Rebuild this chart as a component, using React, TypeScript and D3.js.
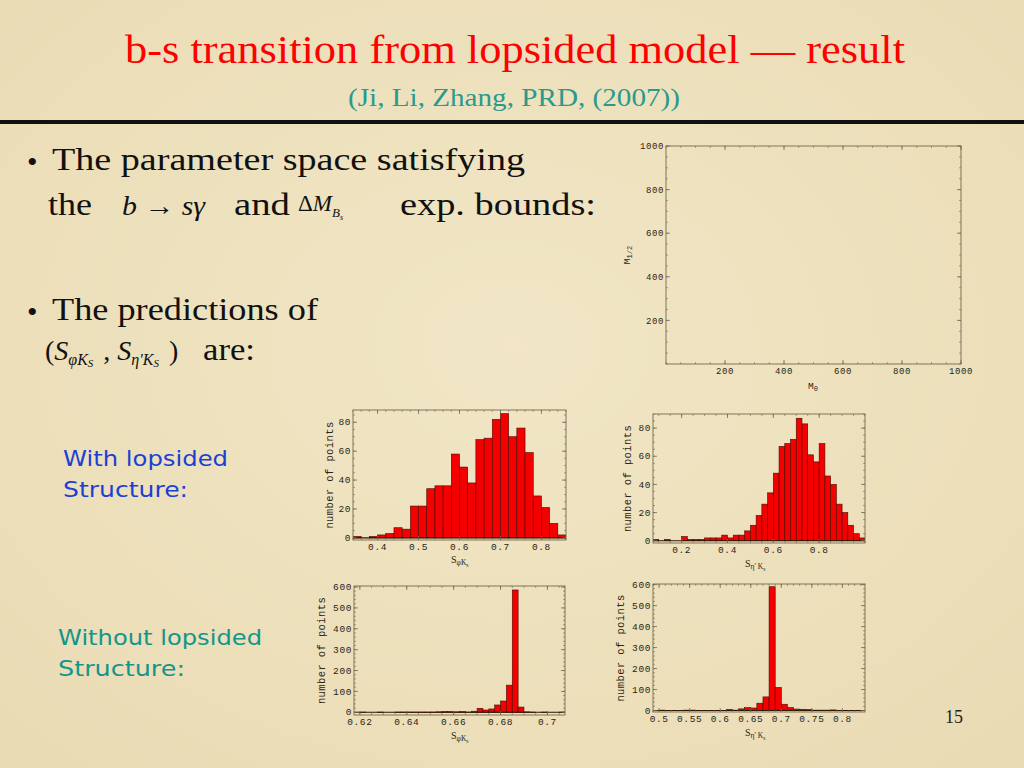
import React from 'react';
import * as d3 from 'd3';

// histogram counts (bins of equal width)
const H1_COUNTS = [1, 0, 1, 2, 3, 7, 6, 22, 22, 34, 36, 36, 58, 49, 38, 68, 69, 82, 86, 70, 76, 59, 29, 21, 10, 2];
const H1_BIN_START = 0.34;
const H1_BIN_WIDTH = 0.02;
const H1_X_TICKS = [0.4, 0.5, 0.6, 0.7, 0.8];
const H1_Y_TICKS = [0, 20, 40, 60, 80];

const H2_COUNTS = [1, 0, 1, 0, 0, 3, 1, 1, 1, 2, 2, 2, 4, 2, 4, 4, 7, 11, 18, 26, 34, 48, 67, 69, 72, 87, 83, 61, 56, 69, 46, 40, 26, 20, 11, 5, 2];
const H2_BIN_START = 0.075;
const H2_BIN_WIDTH = 0.025;
const H2_X_TICKS = [0.2, 0.4, 0.6, 0.8];
const H2_Y_TICKS = [0, 20, 40, 60, 80];

const H3_COUNTS = [0, 1, 0, 0, 1, 0, 0, 1, 1, 1, 1, 1, 1, 1, 2, 3, 3, 2, 3, 1, 5, 19, 11, 16, 35, 54, 130, 586, 25, 2, 1, 0, 1, 0, 0, 1];
const H3_BIN_START = 0.6175;
const H3_BIN_WIDTH = 0.0025;
const H3_X_TICKS = [0.62, 0.64, 0.66, 0.68, 0.7];
const H3_Y_TICKS = [0, 100, 200, 300, 400, 500, 600];

const H4_COUNTS = [1, 2, 1, 0, 0, 2, 2, 0, 1, 1, 1, 1, 5, 2, 8, 14, 12, 35, 65, 590, 110, 30, 14, 7, 6, 5, 2, 2, 2, 3, 1, 0, 0, 0, 0];
const H4_BIN_START = 0.49;
const H4_BIN_WIDTH = 0.01;
const H4_X_TICKS = [0.5, 0.55, 0.6, 0.65, 0.7, 0.75, 0.8];
const H4_Y_TICKS = [0, 100, 200, 300, 400, 500, 600];

const SC_TICKS = [200, 400, 600, 800, 1000];

const MONO = '"Liberation Mono", "DejaVu Sans Mono", monospace';
const SERIF = '"Liberation Serif", "DejaVu Serif", serif';
const COMIC = '"DejaVu Sans", "Noto Sans", sans-serif';
const FRAME_COLOR = '#74684f';
const TEXT_COLOR = '#2a2418';
const INK = '#111';

interface Box { x: number; y: number; w: number; h: number }

const fmt = (v: number) => String(+v.toFixed(4));

function minorTicks(domain: [number, number], step: number) {
  const lo = Math.ceil(domain[0] / step - 1e-9);
  const hi = Math.floor(domain[1] / step + 1e-9);
  return d3.range(lo, hi + 1).map((i) => i * step);
}

// Mathematica style frame: ticks pointing in on all four sides, labels bottom/left
const FrameAxes = ({ box, x, y, xTicks, yTicks, xMinor, yMinor, fontSize = 9.5 }: any) => {
  const bottom = box.y + box.h;
  const right = box.x + box.w;
  const xd = x.domain();
  const yd = y.domain();
  const inX = (v: number) => v >= Math.min(...xd) && v <= Math.max(...xd);
  const inY = (v: number) => v >= Math.min(...yd) && v <= Math.max(...yd);
  return (
    <g>
      <rect x={box.x} y={box.y} width={box.w} height={box.h} fill="none" stroke={FRAME_COLOR} strokeWidth={0.9} />
      {minorTicks(xd, xMinor).filter(inX).map((v, i) => (
        <g key={'xm' + i} stroke={FRAME_COLOR} strokeWidth={0.6}>
          <line x1={x(v)} x2={x(v)} y1={bottom} y2={bottom - 2} />
          <line x1={x(v)} x2={x(v)} y1={box.y} y2={box.y + 2} />
        </g>
      ))}
      {minorTicks(yd, yMinor).filter(inY).map((v, i) => (
        <g key={'ym' + i} stroke={FRAME_COLOR} strokeWidth={0.6}>
          <line x1={box.x} x2={box.x + 2} y1={y(v)} y2={y(v)} />
          <line x1={right} x2={right - 2} y1={y(v)} y2={y(v)} />
        </g>
      ))}
      {xTicks.map((v: number) => (
        <g key={'x' + v}>
          <line x1={x(v)} x2={x(v)} y1={bottom} y2={bottom - 4} stroke={FRAME_COLOR} strokeWidth={0.8} />
          <line x1={x(v)} x2={x(v)} y1={box.y} y2={box.y + 4} stroke={FRAME_COLOR} strokeWidth={0.8} />
          <text x={x(v)} y={bottom + 10} textAnchor="middle" fontFamily={MONO} fontSize={fontSize} fill={TEXT_COLOR} letterSpacing={0.6}>
            {fmt(v)}
          </text>
        </g>
      ))}
      {yTicks.map((v: number) => (
        <g key={'y' + v}>
          <line x1={box.x} x2={box.x + 4} y1={y(v)} y2={y(v)} stroke={FRAME_COLOR} strokeWidth={0.8} />
          <line x1={right} x2={right - 4} y1={y(v)} y2={y(v)} stroke={FRAME_COLOR} strokeWidth={0.8} />
          <text x={box.x - 2} y={y(v) + 3.2} textAnchor="end" fontFamily={MONO} fontSize={fontSize} fill={TEXT_COLOR} letterSpacing={0.6}>
            {fmt(v)}
          </text>
        </g>
      ))}
    </g>
  );
};

const Histogram = ({ box, counts, binStart, binWidth, xDomain, yDomain, xTicks, yTicks, xMinor, yMinor, xLabel, yLabelX }: any) => {
  const x = d3.scaleLinear().domain(xDomain).range([box.x, box.x + box.w]);
  const y = d3.scaleLinear().domain(yDomain).range([box.y + box.h, box.y]);
  const clipId = 'clip' + Math.round(box.x) + '_' + Math.round(box.y);
  return (
    <g>
      <clipPath id={clipId}>
        <rect x={box.x} y={box.y} width={box.w} height={box.h} />
      </clipPath>
      <g clipPath={`url(#${clipId})`}>
        {counts.map((c: number, i: number) => {
          const x0 = x(binStart + i * binWidth);
          const x1 = x(binStart + (i + 1) * binWidth);
          return c > 0 ? (
            <rect key={i} x={x0} y={y(c)} width={x1 - x0} height={y(0) - y(c)} fill="#f40000" stroke="#4a0a00" strokeWidth={0.6} />
          ) : null;
        })}
        <line x1={box.x} x2={box.x + box.w} y1={y(0)} y2={y(0)} stroke="#2a1400" strokeWidth={1.1} />
      </g>
      <FrameAxes box={box} x={x} y={y} xTicks={xTicks} yTicks={yTicks} xMinor={xMinor} yMinor={yMinor} />
      <text
        transform={`translate(${yLabelX},${box.y + box.h / 2}) rotate(-90)`}
        textAnchor="middle"
        fontFamily={MONO}
        fontSize={10.5}
        letterSpacing={0.4}
        fill={TEXT_COLOR}
      >
        number of points
      </text>
      {xLabel}
    </g>
  );
};

const SPhiK = ({ cx, cy }: { cx: number; cy: number }) => (
  <text x={cx - 9} y={cy} fontFamily={SERIF} fontSize={10} fill={TEXT_COLOR}>
    S
    <tspan dy={2} fontSize={7.5}>φK</tspan>
    <tspan dy={1.5} fontSize={5.5}>s</tspan>
  </text>
);

const SEtaK = ({ cx, cy }: { cx: number; cy: number }) => (
  <text x={cx - 12} y={cy} fontFamily={SERIF} fontSize={10} fill={TEXT_COLOR}>
    S
    <tspan dy={2} fontSize={7.5}>η' K</tspan>
    <tspan dy={1.5} fontSize={5.5}>s</tspan>
  </text>
);

const Scatter = () => {
  const box: Box = { x: 666, y: 146, w: 295, h: 218 };
  const x = d3.scaleLinear().domain([0, 1000]).range([box.x, box.x + box.w]);
  const y = d3.scaleLinear().domain([0, 1000]).range([box.y + box.h, box.y]);
  return (
    <g>
      <FrameAxes box={box} x={x} y={y} xTicks={SC_TICKS} yTicks={SC_TICKS} xMinor={50} yMinor={50} fontSize={9} />
      <text transform={`translate(630,${box.y + box.h / 2}) rotate(-90)`} textAnchor="middle" fontFamily={MONO} fontSize={9.5} fill={TEXT_COLOR}>
        M<tspan dy={2} fontSize={7}>1/2</tspan>
      </text>
      <text x={808} y={389} fontFamily={MONO} fontSize={9.5} fill={TEXT_COLOR}>
        M<tspan dy={2} fontSize={7}>0</tspan>
      </text>
    </g>
  );
};

// a line of slide text stretched to the width it has on the slide
const Line = ({ x, y, w, size = 32, fill = INK, family = SERIF, italic = false, children }: any) => (
  <text x={x} y={y} textLength={w} lengthAdjust="spacingAndGlyphs" fontFamily={family} fontSize={size} fontStyle={italic ? 'italic' : 'normal'} fill={fill}>
    {children}
  </text>
);

export default function App() {
  return (
    <svg width={1024} height={768} style={{ position: 'absolute', left: 0, top: 0 }} xmlns="http://www.w3.org/2000/svg">
      <defs>
        <radialGradient id="paper" cx="50%" cy="45%" r="75%">
          <stop offset="0%" stopColor="#f1e6c6" />
          <stop offset="100%" stopColor="#e9dbb3" />
        </radialGradient>
      </defs>
      <rect x={0} y={0} width={1024} height={768} fill="url(#paper)" />

      <Line x={125} y={63} w={780} size={39} fill="#ff0000">b-s transition from lopsided model — result</Line>
      <Line x={348} y={106} w={332} size={25} fill="#2a9a8c">(Ji, Li, Zhang, PRD, (2007))</Line>
      <rect x={0} y={120} width={1024} height={4} fill="#111" />

      {/* bullet one */}
      <text x={27} y={172} fontFamily={SERIF} fontSize={30} fill={INK}>•</text>
      <Line x={52} y={170} w={473}>The parameter space satisfying</Line>
      <Line x={48} y={215} w={44}>the</Line>
      <Line x={122} y={215} w={83} size={27} italic>b → sγ</Line>
      <Line x={234} y={215} w={56}>and</Line>
      <text x={298} y={211} fontFamily={SERIF} fontSize={23} fill={INK}>
        Δ<tspan fontStyle="italic">M</tspan>
        <tspan dy={6} fontSize={13} fontStyle="italic">B</tspan>
        <tspan dy={3} fontSize={8} fontStyle="italic">s</tspan>
      </text>
      <Line x={400} y={215} w={196}>exp. bounds:</Line>

      {/* bullet two */}
      <text x={27} y={322} fontFamily={SERIF} fontSize={30} fill={INK}>•</text>
      <Line x={52} y={320} w={266}>The predictions of</Line>
      <text x={45} y={360} fontFamily={SERIF} fontSize={28} fill={INK}>
        (<tspan fontStyle="italic">S</tspan>
        <tspan dy={5} fontSize={16} fontStyle="italic">φK</tspan>
        <tspan dy={2} fontSize={11} fontStyle="italic">S</tspan>
        <tspan dy={-7} dx={3}> , </tspan>
        <tspan fontStyle="italic">S</tspan>
        <tspan dy={5} fontSize={16} fontStyle="italic">η'K</tspan>
        <tspan dy={2} fontSize={11} fontStyle="italic">S</tspan>
        <tspan dy={-7} dx={3}> )</tspan>
      </text>
      <Line x={203} y={360} w={52}>are:</Line>

      <Line x={63} y={466} w={165} size={22} family={COMIC} fill="#1c3fd6">With lopsided</Line>
      <Line x={63} y={497} w={125} size={22} family={COMIC} fill="#1c3fd6">Structure:</Line>
      <Line x={58} y={645} w={204} size={22} family={COMIC} fill="#14958b">Without lopsided</Line>
      <Line x={58} y={676} w={127} size={22} family={COMIC} fill="#14958b">Structure:</Line>

      <text x={945} y={723} fontFamily={SERIF} fontSize={18} fill="#222">15</text>

      <Scatter />

      <Histogram
        box={{ x: 353, y: 410, w: 213, h: 130 }}
        counts={H1_COUNTS}
        binStart={H1_BIN_START}
        binWidth={H1_BIN_WIDTH}
        xDomain={[0.34, 0.86]}
        yDomain={[-1.5, 88.5]}
        xTicks={H1_X_TICKS}
        yTicks={H1_Y_TICKS}
        xMinor={0.02}
        yMinor={5}
        yLabelX={333}
        xLabel={<SPhiK cx={460} cy={563} />}
      />
      <Histogram
        box={{ x: 653, y: 414, w: 212, h: 129 }}
        counts={H2_COUNTS}
        binStart={H2_BIN_START}
        binWidth={H2_BIN_WIDTH}
        xDomain={[0.075, 1.0]}
        yDomain={[-1.6, 90]}
        xTicks={H2_X_TICKS}
        yTicks={H2_Y_TICKS}
        xMinor={0.05}
        yMinor={5}
        yLabelX={631}
        xLabel={<SEtaK cx={757} cy={567} />}
      />
      <Histogram
        box={{ x: 354, y: 586, w: 211, h: 129 }}
        counts={H3_COUNTS}
        binStart={H3_BIN_START}
        binWidth={H3_BIN_WIDTH}
        xDomain={[0.6175, 0.7075]}
        yDomain={[-13, 605]}
        xTicks={H3_X_TICKS}
        yTicks={H3_Y_TICKS}
        xMinor={0.005}
        yMinor={20}
        yLabelX={325}
        xLabel={<SPhiK cx={460} cy={739} />}
      />
      <Histogram
        box={{ x: 653, y: 584, w: 212, h: 128 }}
        counts={H4_COUNTS}
        binStart={H4_BIN_START}
        binWidth={H4_BIN_WIDTH}
        xDomain={[0.49, 0.837]}
        yDomain={[-7, 603]}
        xTicks={H4_X_TICKS}
        yTicks={H4_Y_TICKS}
        xMinor={0.01}
        yMinor={20}
        yLabelX={624}
        xLabel={<SEtaK cx={757} cy={736} />}
      />
    </svg>
  );
}
